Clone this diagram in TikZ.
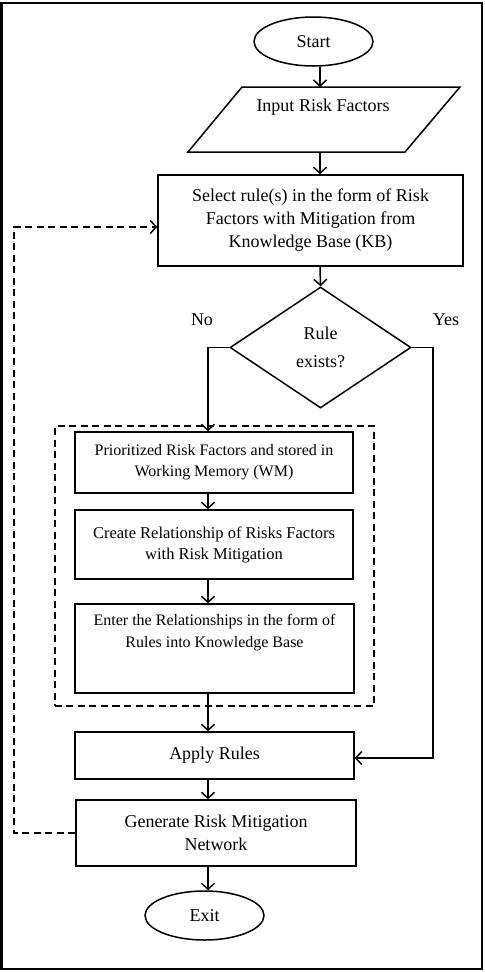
\documentclass[tikz,border=0pt]{standalone}
\usepackage{fontspec}
\setmainfont{Liberation Serif}
\usetikzlibrary{arrows.meta,shapes.geometric}
\begin{document}
\begin{tikzpicture}[x=1bp,y=-1bp,
  line width=1.5bp,
  >={Straight Barb[length=6bp,width=13bp]},
  box/.style={draw, rectangle, inner sep=0pt, align=center, font=\fontsize{18bp}{23bp}\selectfont},
  sbox/.style={box, font=\fontsize{16bp}{21bp}\selectfont},
  term/.style={draw, ellipse, inner sep=0pt, minimum width=119bp, minimum height=49bp, font=\fontsize{18bp}{20bp}\selectfont},
  txt/.style={align=center, inner sep=0pt, font=\fontsize{18bp}{23bp}\selectfont},
  stxt/.style={align=center, inner sep=0pt, font=\fontsize{16bp}{22bp}\selectfont},
  grpline/.style={dash pattern=on 7bp off 4.5bp, line width=1.5bp}
]
\useasboundingbox (0,0) rectangle (485,972);
\draw[line width=2bp] (1.5,2.5) rectangle (482,968.5);

% top part
\node[term] (start) at (313.5,41.5) {Start};
\coordinate (topx) at (320,0);
\coordinate (inT) at (320,87);
\coordinate (inB) at (320,152);
\draw (242,87) -- (460,87) -- (405,152) -- (188,152) -- cycle;
\node[txt] (inp) at (323,107) {Input Risk Factors};

\node[box, minimum width=305bp, minimum height=91bp] (sel) at (310.5,220.5)
  {Select rule(s) in the form of Risk\\Factors with Mitigation from\\Knowledge Base (KB)};

\node[draw, diamond, inner sep=0pt, minimum width=181bp, minimum height=121bp,
  align=center, font=\fontsize{18bp}{28bp}\selectfont] (dec) at (320.5,347.5) {Rule\\exists?};
\node[txt] (no) at (202,320) {No};
\node[txt] (yes) at (446,320) {Yes};

% group
\node[draw, grpline, rectangle, minimum width=319bp, minimum height=280bp] (grp) at (214.5,566) {};
\coordinate (colx) at (208,0);
\coordinate (yesx) at (433,0);

\node[sbox, minimum width=278bp, minimum height=61bp] (prio) at (214,462.5)
  {Prioritized Risk Factors and stored in\\Working Memory (WM)};
\node[box, font=\fontsize{16.5bp}{21bp}\selectfont, minimum width=278bp, minimum height=69bp] (create) at (214,544.5)
  {Create Relationship of Risks Factors\\with Risk Mitigation};
\node[box, minimum width=279bp, minimum height=89bp] (enter) at (214.5,648.5) {};
\node[stxt] (enterT) at (214.5,633) {Enter the Relationships in the form of\\Rules into Knowledge Base};

\node[box, minimum width=279bp, minimum height=47bp] (apply) at (214.5,755.5) {Apply Rules};
\node[box, minimum width=280bp, minimum height=66bp] (gen) at (216,833)
  {Generate Risk Mitigation\\Network};
\node[term] (exit) at (204.5,915.5) {Exit};

\coordinate (fb) at (14,227);

% connectors
\draw[->] (start.south -| topx) -- (inT);
\draw[->] (inB) -- (sel.north -| topx);
\draw[->] (sel.south -| topx) -- (dec.north);
\draw[->] (dec.west) -- (dec.west -| colx) -- (prio.north -| colx);
\draw[->] (dec.east) -- (dec.east -| yesx) -- (yesx |- 0,758) -- (apply.east |- 0,758);
\draw[->] (prio.south -| colx) -- (create.north -| colx);
\draw[->] (create.south -| colx) -- (enter.north -| colx);
\draw[->] (enter.south -| colx) -- (apply.north -| colx);
\draw[->] (apply.south -| colx) -- (gen.north -| colx);
\draw[->] (gen.south -| colx) -- (exit.north -| colx);
\draw[->, grpline] (gen.west) -- (gen.west -| fb) -- (fb) -- (sel.west |- fb);
\end{tikzpicture}
\end{document}
